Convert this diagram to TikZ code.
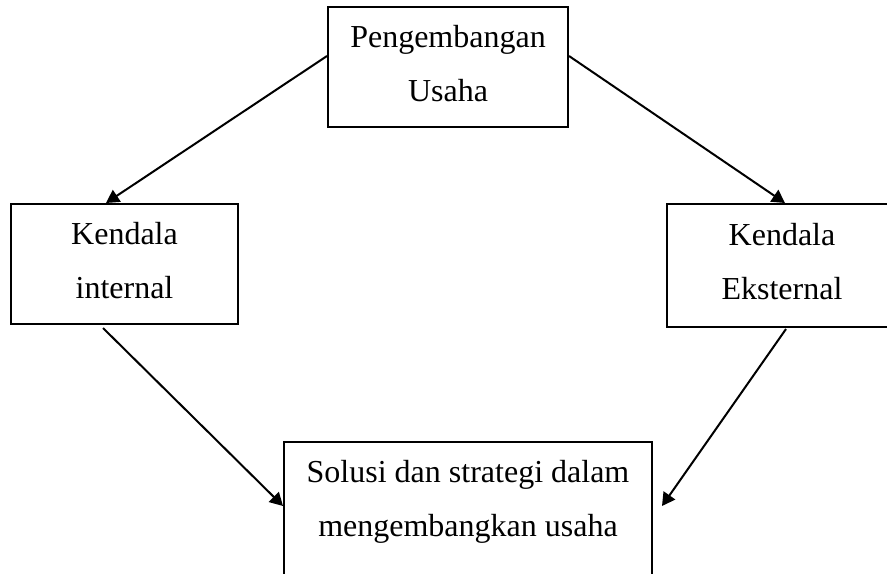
\documentclass[tikz,border=0pt]{standalone}
\usepackage{fontspec}
\setmainfont{Liberation Serif}
\usepackage{tikz}
\usetikzlibrary{arrows.meta}

\tikzset{
	kotak/.style = {draw, line width=1pt, inner sep=0pt, align=center,
		font=\fontsize{16pt}{27pt}\selectfont, text depth=4pt},
	panah/.style = {line width=1pt, -{Triangle[length=6.5pt,width=7pt]}}
}

\begin{document}
\begin{tikzpicture}[x=0.5pt, y=-0.5pt]
			% frame of the page
			\useasboundingbox (0, 0) rectangle (887, 573);
			% boxes
			\node[kotak, minimum width=120pt, minimum height=60pt] (usaha) at (448, 67) {Pengembangan\\Usaha};
			\node[kotak, minimum width=113.5pt, minimum height=60pt] (internal) at (124.5, 264) {Kendala\\internal};
			\node[kotak, minimum width=115pt, minimum height=61.5pt] (eksternal) at (782, 265.5) {Kendala\\Eksternal};
			\node[kotak, minimum width=184pt, minimum height=85pt, text depth=29pt] (solusi) at (468, 527) {Solusi dan strategi dalam\\mengembangkan usaha};
			% arrows
			\draw[panah] ([yshift=5.5pt]usaha.west) -- ([xshift=-9.25pt]internal.north);
			\draw[panah] ([yshift=5.5pt]usaha.east) -- ([xshift=1.5pt]eksternal.north);
			\draw[panah] ([xshift=-10.75pt, yshift=-1.5pt]internal.south) -- ([yshift=10.5pt]solusi.west);
			\draw[panah] ([xshift=2pt, yshift=-0.5pt]eksternal.south) -- ([xshift=4.5pt, yshift=10.5pt]solusi.east);
		\end{tikzpicture}
\end{document}
